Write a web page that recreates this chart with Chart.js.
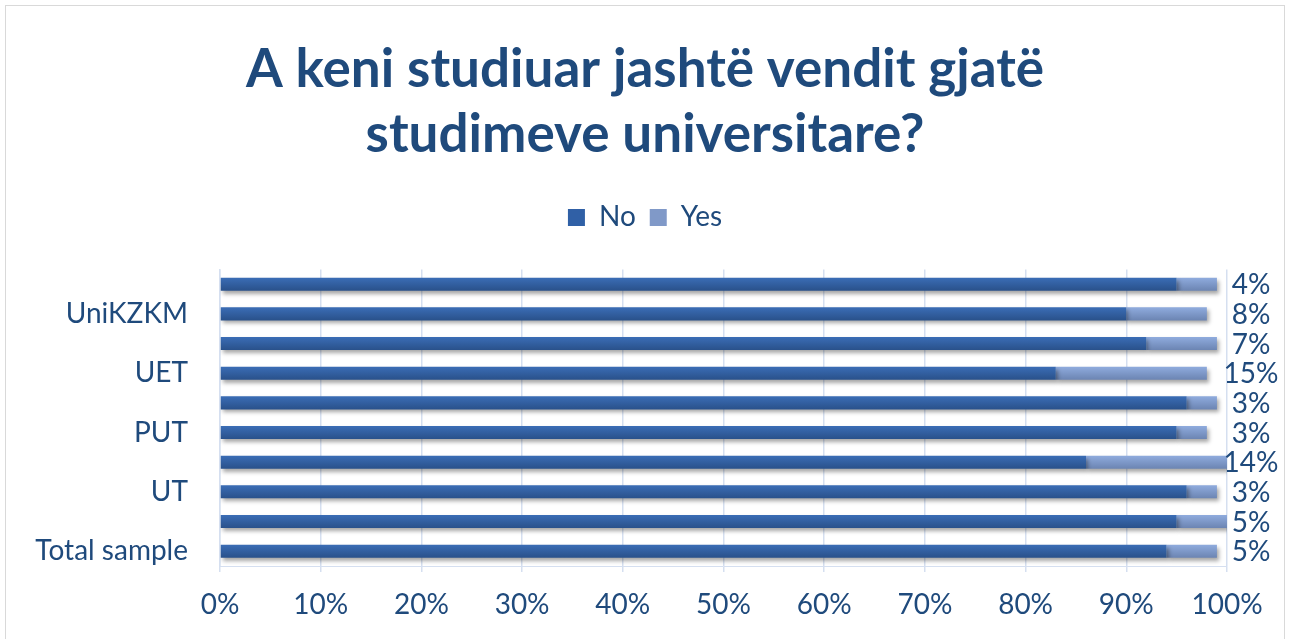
<!DOCTYPE html>
<html lang="sq">
<head>
  <meta charset="utf-8">
  <title>A keni studiuar jashtë vendit</title>
  <style>
    body {
      margin: 0;
      background-color: #fff;
    }
    .chart-box {
      position: relative;
      width: 1290px;
      height: 639px;
    }
  </style>
</head>
<body>
  <div class="chart-box">
    <canvas id="abroadChart" width="1290" height="639"></canvas>
  </div>
  <script src="https://cdn.jsdelivr.net/npm/chart.js"></script>
  <script>
    // Categories top to bottom (only every second one carries a label)
    const universities = ['', 'UniKZKM', '', 'UET', '', 'PUT', '', 'UT', '', 'Total sample'];
    const noValues  = [95, 90, 92, 83, 96, 95, 86, 96, 95, 94];
    const yesValues = [4, 8, 7, 15, 3, 3, 14, 3, 5, 5];
    const percentTicks = [0, 10, 20, 30, 40, 50, 60, 70, 80, 90, 100];

    const textColor = '#1F4A7C';
    const fontFamily = 'Lato, "Open Sans", sans-serif';

    // vertical gradient for each bar, lighter on top
    function barGradient(context, top, bottom) {
      const chart = context.chart;
      const yScale = chart.scales.y;
      if (!chart.chartArea || !yScale) return top;
      const yc = yScale.getPixelForValue(context.dataIndex);
      const g = chart.ctx.createLinearGradient(0, yc - 6, 0, yc + 6);
      g.addColorStop(0, top);
      g.addColorStop(1, bottom);
      return g;
    }

    const frame = {
      id: 'frame',
      beforeDraw(chart) {
        const ctx = chart.ctx;
        ctx.save();
        ctx.strokeStyle = '#d9d9d9';
        ctx.lineWidth = 1;
        ctx.strokeRect(5.5, 5.5, chart.width - 11, chart.height + 20);
        ctx.restore();
      }
    };

    // extra room between the legend and the plot
    const legendGap = {
      id: 'legendGap',
      beforeInit(chart) {
        const fit = chart.legend.fit;
        chart.legend.fit = function () {
          fit.bind(chart.legend)();
          this.height += 28;
        };
      }
    };

    const barShadow = {
      id: 'barShadow',
      beforeDatasetDraw(chart) {
        const ctx = chart.ctx;
        ctx.save();
        ctx.shadowColor = 'rgba(0, 0, 0, 0.35)';
        ctx.shadowBlur = 4;
        ctx.shadowOffsetX = 2;
        ctx.shadowOffsetY = 3;
      },
      afterDatasetDraw(chart) {
        chart.ctx.restore();
      }
    };

    // "Yes" share written to the right of each row
    const yesLabels = {
      id: 'yesLabels',
      afterDatasetsDraw(chart) {
        const ctx = chart.ctx;
        const yScale = chart.scales.y;
        const x = chart.chartArea.right + 24;
        ctx.save();
        ctx.fillStyle = textColor;
        ctx.font = '28px ' + fontFamily;
        ctx.textAlign = 'center';
        ctx.textBaseline = 'middle';
        yesValues.forEach((v, i) => {
          ctx.fillText(v + '%', x, yScale.getPixelForValue(i) + 1);
        });
        ctx.restore();
      }
    };

    new Chart(document.getElementById('abroadChart'), {
      type: 'bar',
      data: {
        labels: universities,
        datasets: [{
          label: 'No',
          data: noValues,
          backgroundColor: ctx => barGradient(ctx, '#3a6cb4', '#2a528c'),
          barPercentage: 0.44,
          categoryPercentage: 1
        }, {
          label: 'Yes',
          data: yesValues,
          backgroundColor: ctx => barGradient(ctx, '#8eaadc', '#6d86b4'),
          barPercentage: 0.44,
          categoryPercentage: 1
        }]
      },
      options: {
        indexAxis: 'y',
        responsive: false,
        animation: false,
        layout: {
          padding: 0
        },
        plugins: {
          title: {
            display: true,
            text: ['A keni studiuar jashtë vendit gjatë', 'studimeve universitare?'],
            color: textColor,
            font: { family: fontFamily, size: 53, weight: 'bold', lineHeight: 1.23 },
            padding: { top: 37, bottom: 22 }
          },
          legend: {
            display: true,
            position: 'top',
            labels: {
              color: textColor,
              font: { family: fontFamily, size: 28 },
              boxWidth: 17,
              boxHeight: 17,
              padding: 14,
              generateLabels(chart) {
                const cols = ['#3060a6', '#8099c8'];
                return chart.data.datasets.map((ds, i) => ({
                  text: ds.label,
                  fillStyle: cols[i],
                  strokeStyle: cols[i],
                  lineWidth: 0,
                  fontColor: textColor,
                  datasetIndex: i
                }));
              }
            }
          },
          tooltip: { enabled: false }
        },
        scales: {
          x: {
            stacked: true,
            min: 0,
            max: 100,
            afterBuildTicks(scale) {
              scale.ticks = percentTicks.map(v => ({ value: v }));
            },
            afterFit(scale) {
              scale.height = 73;
            },
            grid: {
              color: '#d5dff0',
              lineWidth: 1.5,
              drawTicks: true,
              tickLength: 6,
              tickColor: '#d5dff0'
            },
            border: { display: true, color: '#d5dff0' },
            ticks: {
              color: textColor,
              font: { family: fontFamily, size: 28 },
              padding: 16,
              maxRotation: 0,
              callback: v => v + '%'
            }
          },
          y: {
            stacked: true,
            afterFit(scale) {
              scale.width = 220;
            },
            grid: { display: false },
            border: { display: true, color: '#d5dff0', width: 1.5 },
            ticks: {
              color: textColor,
              font: { family: fontFamily, size: 28 },
              padding: 24,
              autoSkip: false
            }
          },
          // empty right-hand axis that keeps room for the value labels
          yRight: {
            type: 'category',
            position: 'right',
            afterFit(scale) {
              scale.width = 63;
            },
            grid: { display: false },
            border: { display: false },
            ticks: { display: false }
          }
        }
      },
      plugins: [frame, legendGap, barShadow, yesLabels]
    });
  </script>
</body>
</html>
